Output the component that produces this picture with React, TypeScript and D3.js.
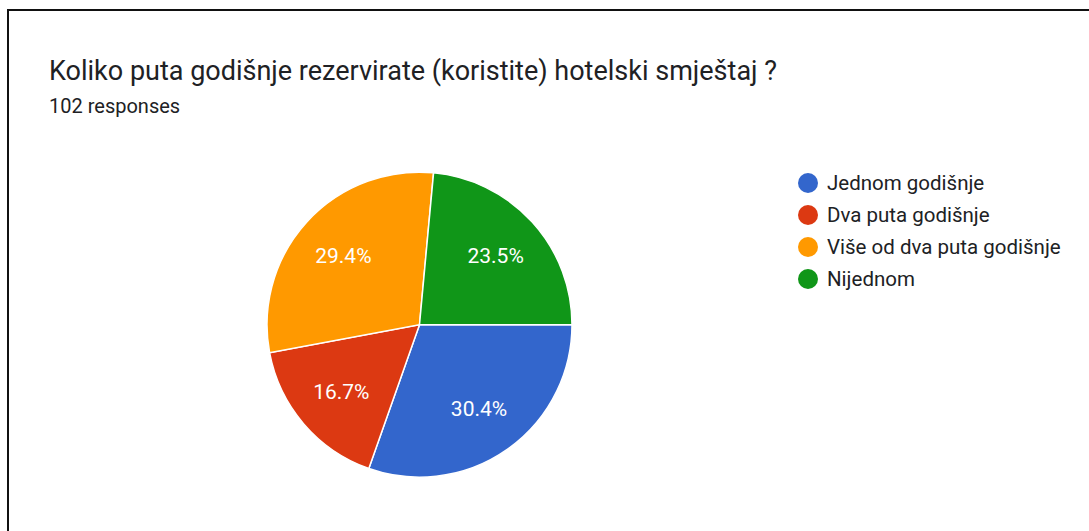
import React, { useEffect, useRef } from 'react'
import * as d3 from 'd3'

const title = 'Koliko puta godišnje rezervirate (koristite) hotelski smještaj ?'
const subtitle = '102 responses'
const categories = ['Jednom godišnje', 'Dva puta godišnje', 'Više od dva puta godišnje', 'Nijednom']
const counts = [31, 17, 30, 24]
const colors = ['#3366cc', '#dc3912', '#ff9900', '#109618']

const W = 1089
const H = 531

const App = () => {
    const svgRef = useRef<SVGSVGElement>(null)

    useEffect(() => {
        const svg = d3.select(svgRef.current)
        svg.selectAll('*').remove()

        // frame (only top and left edges are visible in the crop)
        svg.append('path')
            .attr('d', `M8,${H} V10 H${W}`)
            .attr('fill', 'none')
            .attr('stroke', '#111')
            .attr('stroke-width', 2)

        svg.append('text')
            .attr('x', 49).attr('y', 80)
            .attr('font-size', 27)
            .attr('fill', '#202124')
            .text(title)

        svg.append('text')
            .attr('x', 49).attr('y', 113)
            .attr('font-size', 20)
            .attr('fill', '#202124')
            .text(subtitle)

        const total = d3.sum(counts)
        const r = 152.5
        const cx = 419.5, cy = 324.7

        const pie = d3.pie<number>().sort(null).startAngle(Math.PI / 2).endAngle(Math.PI / 2 + 2 * Math.PI)
        const arcs = pie(counts)
        const arc = d3.arc<d3.PieArcDatum<number>>().innerRadius(0).outerRadius(r)
        const labelArc = d3.arc<d3.PieArcDatum<number>>().innerRadius(103).outerRadius(103)

        const g = svg.append('g').attr('transform', `translate(${cx},${cy})`)
        g.selectAll('path.slice')
            .data(arcs)
            .join('path')
            .attr('class', 'slice')
            .attr('d', arc)
            .attr('fill', (_, i) => colors[i])
            .attr('stroke', '#fff')
            .attr('stroke-width', 1.5)

        g.selectAll('text.lbl')
            .data(arcs)
            .join('text')
            .attr('class', 'lbl')
            .attr('transform', d => `translate(${labelArc.centroid(d)})`)
            .attr('text-anchor', 'middle')
            .attr('dy', '0.35em')
            .attr('font-size', 21)
            .attr('fill', '#fff')
            .text(d => `${(d.data / total * 100).toFixed(1)}%`)

        const y = d3.scalePoint<string>().domain(categories).range([183, 279])
        const lg = svg.append('g')
        lg.selectAll('circle')
            .data(categories)
            .join('circle')
            .attr('cx', 808)
            .attr('cy', d => y(d)!)
            .attr('r', 10)
            .attr('fill', (_, i) => colors[i])
        lg.selectAll('text')
            .data(categories)
            .join('text')
            .attr('x', 827)
            .attr('y', d => y(d)!)
            .attr('dy', '0.35em')
            .attr('font-size', 20.5)
            .attr('fill', '#202124')
            .text(d => d)
    }, [])

    return (
        <svg
            ref={svgRef}
            width={W}
            height={H}
            style={{ position: 'fixed', left: 0, top: 0, background: '#fff', fontFamily: 'Roboto, sans-serif' }}
        />
    )
}

export default App
